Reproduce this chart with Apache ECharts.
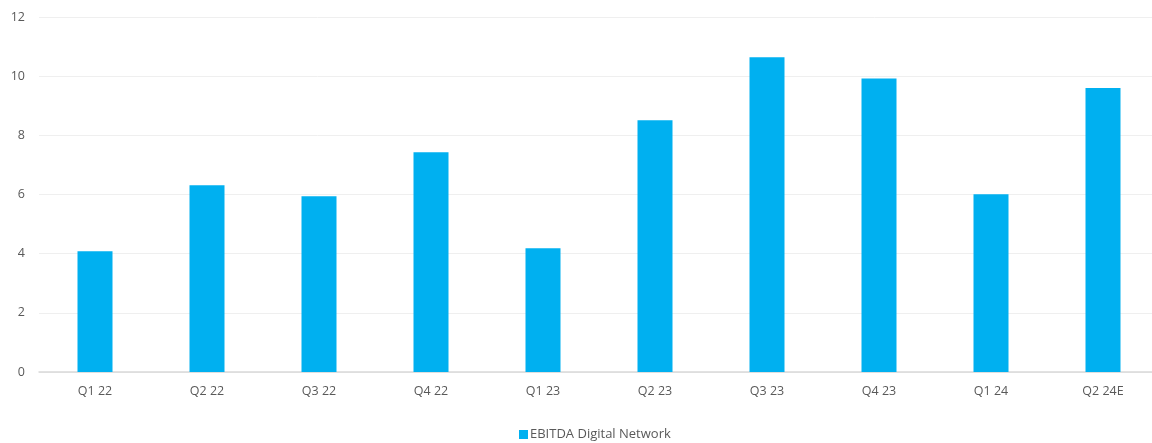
<!DOCTYPE html>
<html>
<head>
<meta charset="utf-8">
<script src="https://cdn.jsdelivr.net/npm/echarts@6/dist/echarts.min.js"></script>
<style>
  html, body { margin: 0; padding: 0; background: #ffffff; }
  #chart { width: 1152px; height: 443px; }
</style>
</head>
<body>
<div id="chart"></div>
<script>
// Quarterly EBITDA of the digital network
const quarters = ['Q1 22', 'Q2 22', 'Q3 22', 'Q4 22', 'Q1 23', 'Q2 23', 'Q3 23', 'Q4 23', 'Q1 24', 'Q2 24E'];
const ebitda = [4.08, 6.31, 5.94, 7.43, 4.18, 8.51, 10.64, 9.92, 6.01, 9.60];
const seriesName = 'EBITDA Digital Network';

const FONT = '"Open Sans", "Liberation Sans", sans-serif';
const TEXT = '#595959';

const chart = echarts.init(document.getElementById('chart'), null, { renderer: 'canvas' });
chart.setOption({
  animation: false,
  backgroundColor: '#ffffff',
  textStyle: { fontFamily: FONT },
  // the plot runs slightly past the right edge of the canvas
  grid: { left: 39, top: 17, width: 1120, height: 355, containLabel: false, outerBoundsMode: 'none' },
  legend: {
    data: [seriesName],
    top: 423,
    left: 514,
    itemWidth: 9,
    itemHeight: 9,
    itemGap: 4,
    icon: 'rect',
    textStyle: { color: TEXT, fontSize: 13, fontFamily: FONT, padding: [0, 0, 0, -3] }
  },
  xAxis: {
    type: 'category',
    data: quarters,
    axisLine: { lineStyle: { color: '#d9d9d9', width: 1.5 } },
    axisTick: { show: false },
    axisLabel: { color: TEXT, fontSize: 12.5, margin: 13, fontFamily: FONT }
  },
  yAxis: {
    type: 'value',
    min: 0,
    max: 12,
    interval: 2,
    axisLine: { show: false },
    axisTick: { show: false },
    axisLabel: { color: TEXT, fontSize: 12.5, margin: 14, fontFamily: FONT },
    splitLine: { lineStyle: { color: '#efefef', width: 1 } }
  },
  series: [{
    name: seriesName,
    type: 'bar',
    data: ebitda,
    barWidth: 35,
    itemStyle: { color: '#00b0f0' }
  }]
});
</script>
</body>
</html>
